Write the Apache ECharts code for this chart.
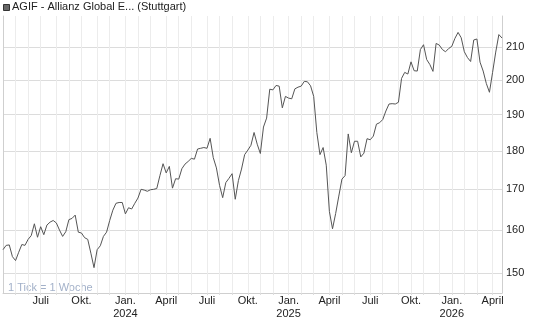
<!DOCTYPE html>
<html><head><meta charset="utf-8">
<script src="https://cdn.jsdelivr.net/npm/echarts@6/dist/echarts.min.js"></script>
<style>html,body{margin:0;padding:0;background:#fff}#c{width:545px;height:327px}</style>
</head><body><div id="c"></div>
<script>
const seriesName = 'AGIF - Allianz Global E... (Stuttgart)';
const weeks = [
'2023-04-03','2023-04-10','2023-04-17','2023-04-24','2023-05-01','2023-05-08','2023-05-15','2023-05-22','2023-05-29','2023-06-05',
'2023-06-12','2023-06-19','2023-06-26','2023-07-03','2023-07-10','2023-07-17','2023-07-24','2023-07-31','2023-08-07','2023-08-14',
'2023-08-21','2023-08-28','2023-09-04','2023-09-11','2023-09-18','2023-09-25','2023-10-02','2023-10-09','2023-10-16','2023-10-23',
'2023-10-30','2023-11-06','2023-11-13','2023-11-20','2023-11-27','2023-12-04','2023-12-11','2023-12-18','2023-12-25','2024-01-01',
'2024-01-08','2024-01-15','2024-01-22','2024-01-29','2024-02-05','2024-02-12','2024-02-19','2024-02-26','2024-03-04','2024-03-11',
'2024-03-18','2024-03-25','2024-04-01','2024-04-08','2024-04-15','2024-04-22','2024-04-29','2024-05-06','2024-05-13','2024-05-20',
'2024-05-27','2024-06-03','2024-06-10','2024-06-17','2024-06-24','2024-07-01','2024-07-08','2024-07-15','2024-07-22','2024-07-29',
'2024-08-05','2024-08-12','2024-08-19','2024-08-26','2024-09-02','2024-09-09','2024-09-16','2024-09-23','2024-09-30','2024-10-07',
'2024-10-14','2024-10-21','2024-10-28','2024-11-04','2024-11-11','2024-11-18','2024-11-25','2024-12-02','2024-12-09','2024-12-16',
'2024-12-23','2024-12-30','2025-01-06','2025-01-13','2025-01-20','2025-01-27','2025-02-03','2025-02-10','2025-02-17','2025-02-24',
'2025-03-03','2025-03-10','2025-03-17','2025-03-24','2025-03-31','2025-04-07','2025-04-14','2025-04-21','2025-04-28','2025-05-05',
'2025-05-12','2025-05-19','2025-05-26','2025-06-02','2025-06-09','2025-06-16','2025-06-23','2025-06-30','2025-07-07','2025-07-14',
'2025-07-21','2025-07-28','2025-08-04','2025-08-11','2025-08-18','2025-08-25','2025-09-01','2025-09-08','2025-09-15','2025-09-22',
'2025-09-29','2025-10-06','2025-10-13','2025-10-20','2025-10-27','2025-11-03','2025-11-10','2025-11-17','2025-11-24','2025-12-01',
'2025-12-08','2025-12-15','2025-12-22','2025-12-29','2026-01-05','2026-01-12','2026-01-19','2026-01-26','2026-02-02','2026-02-09',
'2026-02-16','2026-02-23','2026-03-02','2026-03-09','2026-03-16','2026-03-23','2026-03-30','2026-04-06','2026-04-13','2026-04-20'
];
const prices = [
155.4,156.4,156.5,153.8,152.9,154.8,156.6,156.4,157.8,158.7,
161.5,158.3,160.8,158.9,161.2,161.9,162.3,161.7,160.0,158.5,
159.6,162.5,162.8,163.6,159.5,159.3,158.2,157.8,154.6,151.3,
155.4,156.3,158.5,159.5,162.3,164.8,166.5,166.7,166.7,163.9,
165.4,165.1,166.5,167.8,170.0,169.8,169.5,169.9,170.0,170.2,
173.5,176.6,174.2,175.9,170.3,172.7,172.6,175.3,176.5,177.2,
178.0,177.8,180.5,180.7,180.9,180.7,183.4,178.2,175.5,171.0,
167.9,171.7,172.8,174.0,167.5,172.2,175.2,179.0,180.2,181.5,
185.0,181.8,179.3,186.5,189.0,197.3,197.1,198.4,198.2,191.9,
195.2,194.7,194.5,197.4,197.9,198.2,199.6,199.5,198.3,195.2,
185.0,179.0,180.9,176.2,164.5,160.3,164.0,168.3,172.6,173.5,
184.6,179.5,182.6,182.6,178.4,179.4,183.3,183.0,184.0,187.3,
187.7,188.6,191.0,193.0,193.1,193.0,193.5,200.5,202.3,201.8,
205.5,202.8,202.7,209.3,210.8,206.2,204.7,202.6,211.2,210.7,
209.3,208.6,209.6,210.3,212.8,214.7,213.0,208.6,206.8,205.6,
212.3,212.6,205.4,202.7,199.0,196.4,202.3,208.5,214.0,212.9
];
const yTicks = [150,160,170,180,190,200,210];
const monthNames = ['Jan.','Feb.','März','April','Mai','Juni','Juli','Aug.','Sep.','Okt.','Nov.','Dez.'];
const labelMonths = [0,3,6,9];

function info(i){
  const d = new Date(weeks[i] + 'T00:00:00Z');
  const e = new Date(d.getTime() + 6*86400000);
  const boundary = d.getUTCDate() === 1 || e.getUTCMonth() !== d.getUTCMonth();
  return {boundary, month: e.getUTCMonth(), year: e.getUTCFullYear()};
}
const FONT = '"Liberation Sans", Arial, sans-serif';
const chart = echarts.init(document.getElementById('c'), null, {renderer:'canvas'});
chart.setOption({
  animation:false,
  backgroundColor:'#fff',
  textStyle:{fontFamily:FONT},
  grid:{left:3, right:43, top:16, bottom:34, containLabel:false},
  xAxis:{
    type:'category', data:weeks, boundaryGap:false,
    axisLine:{show:true, lineStyle:{color:'#cfcfcf', width:1}},
    axisTick:{show:true, length:2, lineStyle:{color:'#dddddd'}, interval:(i)=>info(i).boundary},
    splitLine:{show:true, lineStyle:{color:'#ececec', width:1}, interval:(i)=>info(i).boundary},
    axisLabel:{
      show:true, margin:1, fontSize:11, color:'#222', lineHeight:13.5, fontFamily:FONT,
      interval:(i)=>{const f=info(i); return f.boundary && labelMonths.indexOf(f.month)>=0;},
      formatter:(v,i)=>{const f=info(i); return f.month===0 ? monthNames[0]+'\n'+f.year : monthNames[f.month];}
    }
  },
  yAxis:[{
    type:'log', logBase:10, position:'right', min:145.7, max:220,
    axisLine:{show:true, lineStyle:{color:'#cfcfcf'}},
    axisTick:{show:false, customValues:yTicks},
    axisLabel:{show:true, customValues:yTicks, margin:4, fontSize:11, color:'#222', fontFamily:FONT,
      formatter:(v)=>String(Math.round(v))},
    splitLine:{show:true, lineStyle:{color:'#dcdcdc', width:1}}
  },{
    type:'log', logBase:10, position:'left', min:145.7, max:220,
    axisLine:{show:true, lineStyle:{color:'#cfcfcf'}},
    axisTick:{show:false}, axisLabel:{show:false}, splitLine:{show:false}
  }],
  series:[{
    name:seriesName, type:'line', data:prices, yAxisIndex:0,
    showSymbol:false, smooth:false,
    lineStyle:{color:'#555', width:1}, itemStyle:{color:'#555'}
  }],
  graphic:[
    {type:'rect', left:3, top:4, shape:{width:6, height:6}, style:{fill:'#666', stroke:'#333', lineWidth:1}},
    {type:'text', left:12, top:1, style:{text:seriesName, fill:'#222', font:'11px '+FONT}},
    {type:'text', left:8, top:282, style:{text:'1 Tick = 1 Woche', fill:'#a3b1c9', font:'11px '+FONT}}
  ]
});
</script>
</body></html>
